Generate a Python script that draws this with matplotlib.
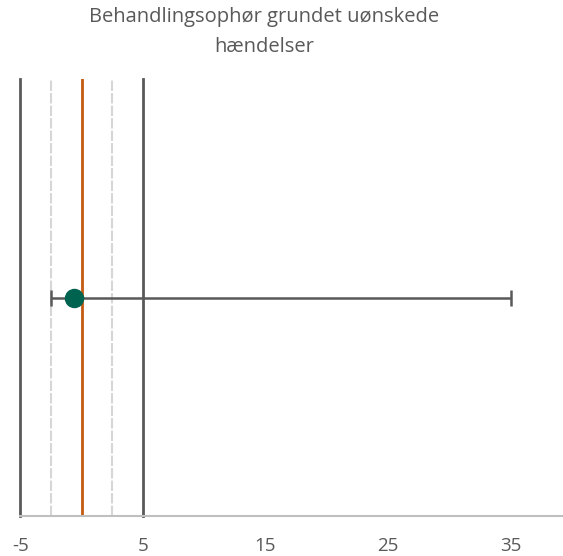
import matplotlib.pyplot as plt

# estimate and its confidence interval
estimate = -0.6
ci_low = -2.5
ci_high = 35
row = 1

# reference lines
dark_lines = [-5, 5]
light_lines = [-2.5, 2.5]
null_line = 0

xticks = [-5, 5, 15, 25, 35]
title = "Behandlingsophør grundet uønskede\nhændelser"

plt.rcParams['font.family'] = ['Open Sans', 'DejaVu Sans']

fig = plt.figure(figsize=(5.63, 5.56), dpi=100)
ax = fig.add_axes([20.5 / 563, 1 - 516 / 556, 1 - 20.5 / 563, (516 - 79) / 556])

for x in dark_lines:
    ax.axvline(x, color='#595959', lw=2, zorder=1, clip_on=False)
for x in light_lines:
    ax.axvline(x, color='#D6D6D6', lw=1.5, ls=(0, (5, 1)), zorder=1)
ax.axvline(null_line, color='#C55A11', lw=2, zorder=2)

ax.errorbar([estimate], [row], xerr=[[estimate - ci_low], [ci_high - estimate]],
            fmt='none', ecolor='#595959', elinewidth=1.8, capsize=6, capthick=1.8, zorder=3)
ax.plot([estimate], [row], 'o', color='#00634F', ms=13, zorder=4)

ax.set_xlim(-5, -5 + (563 - 20.5) / 12.25)
ax.set_ylim(0, 2)
ax.set_xticks(xticks)
ax.set_xticklabels([str(t) for t in xticks])
ax.set_yticks([])
ax.tick_params(axis='x', length=0, pad=15, labelsize=13.5, labelcolor='#595959')
for s in ['top', 'right', 'left']:
    ax.spines[s].set_visible(False)
ax.spines['bottom'].set_color('#BFBFBF')
ax.spines['bottom'].set_linewidth(1.5)

fig.text(264 / 563, 1 - 32 / 556, title, ha='center', va='center',
         fontsize=14.5, color='#595959', linespacing=1.7)

fig.savefig('out.png', dpi=100)
